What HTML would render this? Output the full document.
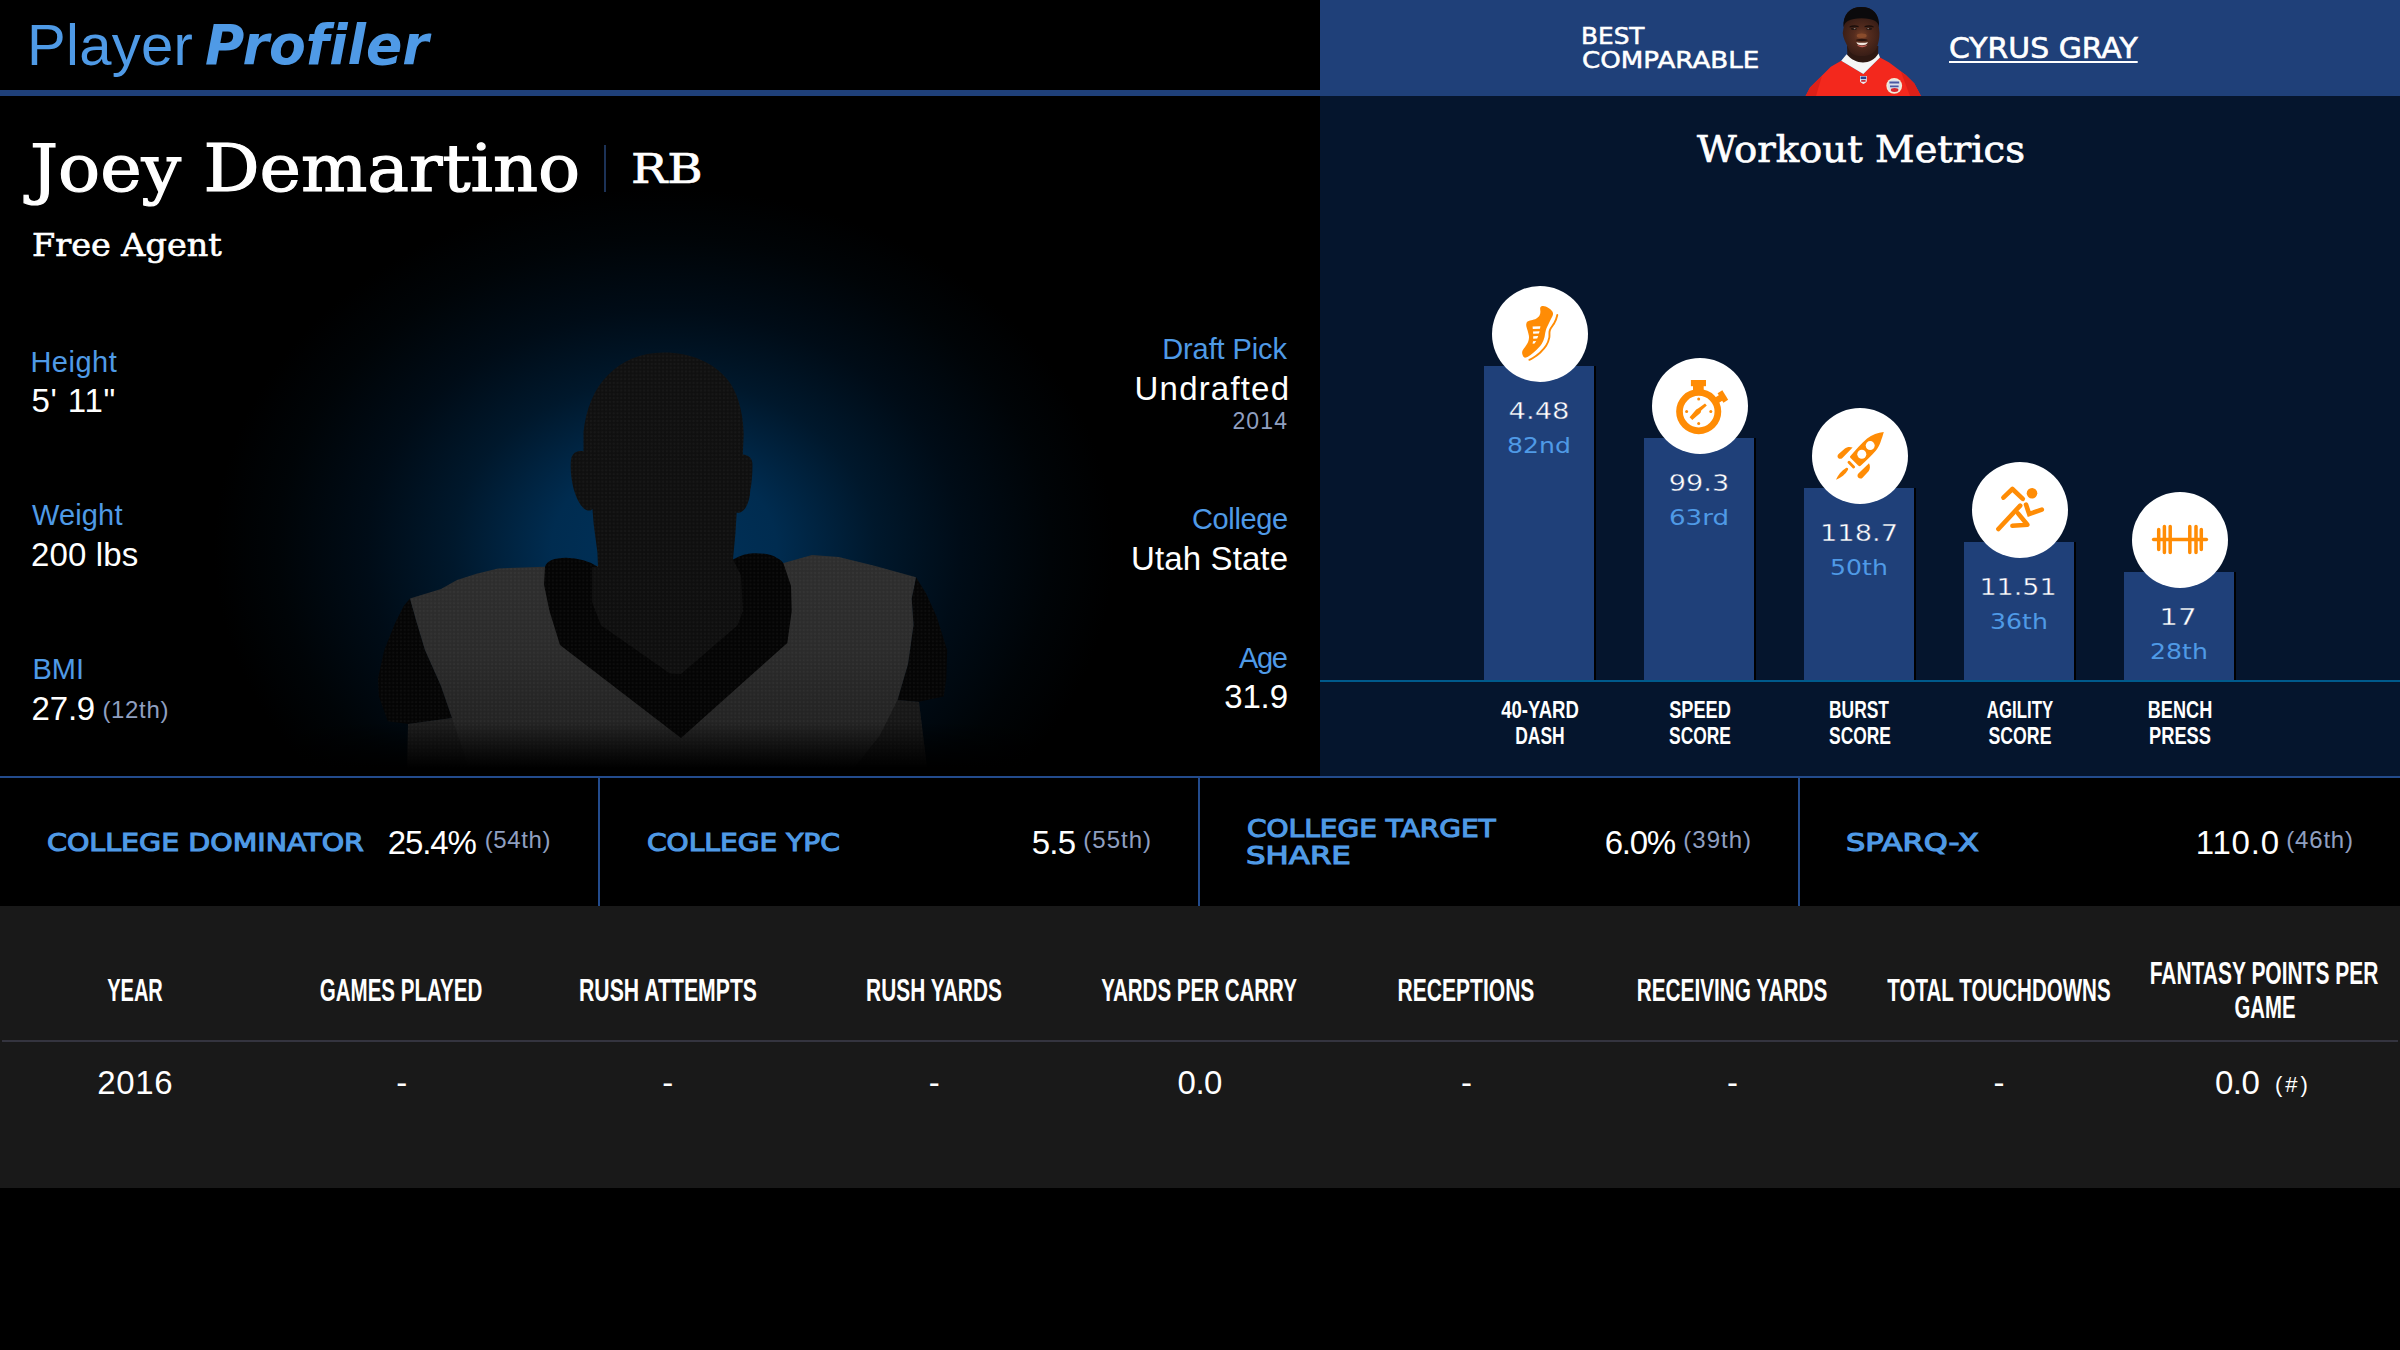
<!DOCTYPE html>
<html lang="en">
<head>
<meta charset="utf-8">
<title>Joey Demartino - PlayerProfiler</title>
<style>
*{margin:0;padding:0;box-sizing:border-box}
html,body{width:2400px;height:1350px;background:#000;overflow:hidden}
body{position:relative;font-family:"Liberation Sans",sans-serif;color:#fff}
.abs{position:absolute}
.t{position:absolute;white-space:nowrap;line-height:1;z-index:5}
.sans{font-family:"Liberation Sans",sans-serif}
.slab{font-family:"DejaVu Serif",serif}
.wide{font-family:"DejaVu Sans",sans-serif}
.blue{color:#4f9ae6}
.gray{color:#8d9cbd}
.r{text-align:right}
.c{text-align:center}
/* header */
#hdr{left:0;top:0;width:1320px;height:96px;background:#000;border-bottom:6px solid #1f4079}
#cmp{left:1320px;top:0;width:1080px;height:96px;background:#1f4079}
/* panels */
#player{left:0;top:96px;width:1320px;height:680px;background:#000;overflow:hidden}
#glow{left:0;top:0;width:1320px;height:680px;background:radial-gradient(ellipse 450px 360px at 664px 452px,#00325b 0%,#002c50 25%,#00182c 47%,#000c17 66%,#000407 86%,#000 100%)}
#workout{left:1320px;top:96px;width:1080px;height:680px;background:#05152d}
#hline{left:0;top:776px;width:2400px;height:2px;background:#234b8c}
/* stats row */
.cell{position:absolute;top:778px;height:128px;width:600px;background:#000}
.cell.b{border-right:2px solid #234b8c}
/* table */
#tbl{left:0;top:906px;width:2400px;height:282px;background:#191919}
#tline{left:2px;top:1040px;width:2396px;height:2px;background:#34343f}
.th{position:absolute;white-space:nowrap;line-height:1;font-family:"Liberation Sans",sans-serif;font-weight:bold;font-size:29px;transform-origin:50% 50%;text-align:center}
.td{position:absolute;white-space:nowrap;line-height:1;font-size:32px;text-align:center;width:266px}
/* bars */
.bar{position:absolute;width:110px;background:#1f4079;box-shadow:2px 0 0 #000}
.circ{position:absolute;width:96px;height:96px;border-radius:50%;background:#fff}
#base{left:1320px;top:680px;width:1080px;height:2px;background:#005a8c}
</style>
</head>
<body>
<!-- header -->
<div id="hdr" class="abs"></div>
<div id="cmp" class="abs"></div>
<!-- panels -->
<div id="player" class="abs"><div id="glow" class="abs"></div></div>
<div id="workout" class="abs"></div>
<div id="hline" class="abs"></div>
<div class="cell b" style="left:0"></div>
<div class="cell b" style="left:600px"></div>
<div class="cell b" style="left:1200px"></div>
<div class="cell" style="left:1800px"></div>
<div id="tbl" class="abs"></div>
<div id="tline" class="abs"></div>
<div id="base" class="abs"></div>
<!--SILHOUETTE-->
<svg class="abs" style="left:0;top:96px" width="1320" height="680" viewBox="0 96 1320 680">
<defs>
<linearGradient id="jg" x1="0" y1="555" x2="0" y2="776" gradientUnits="userSpaceOnUse">
<stop offset="0" stop-color="#2e2e2e"/><stop offset="0.43" stop-color="#2b2b2b"/><stop offset="0.665" stop-color="#252525"/><stop offset="1" stop-color="#1f1f1f"/>
</linearGradient>
<linearGradient id="fade" x1="0" y1="722" x2="0" y2="768" gradientUnits="userSpaceOnUse">
<stop offset="0" stop-color="#000" stop-opacity="0"/><stop offset="1" stop-color="#000" stop-opacity="1"/>
</linearGradient>
<pattern id="dots" x="0" y="96" width="3.8" height="3.8" patternUnits="userSpaceOnUse"><rect x="0.9" y="0.9" width="2" height="2" fill="#fff" fill-opacity="0.036"/></pattern>
<clipPath id="silclip"><use href="#sl1"/><use href="#sl2"/><use href="#jer"/><use href="#col"/><use href="#skn"/></clipPath>
<linearGradient id="slg" x1="0" y1="580" x2="0" y2="724" gradientUnits="userSpaceOnUse"><stop offset="0" stop-color="#050505"/><stop offset="1" stop-color="#040404"/></linearGradient>
<linearGradient id="skin" x1="0" y1="360" x2="0" y2="676" gradientUnits="userSpaceOnUse"><stop offset="0" stop-color="#101010"/><stop offset="1" stop-color="#0e0e0e"/></linearGradient>
</defs>
<!-- sleeves -->
<path id="sl1" fill="url(#slg)" d="M410,598.6 L403.8,605.8 L394.9,623.5 L384.2,650.2 L378,678.6 L378.9,696.4 L387.8,721.3 L408.2,724 L452,718 L441,686 L425,650 L416,620 Z"/>
<path id="sl2" fill="url(#slg)" d="M916,577.3 L926,593.3 L936.6,616.4 L947.2,650.2 L946.3,678.6 L943.7,696.4 L918.8,701.7 L897.5,700 L908,664 L913.5,625 L911.7,598.6 Z"/>
<!-- jersey -->
<path id="jer" fill="url(#jg)" d="M545,566.7 L498,568.4 L476.6,573.8 L457,580 L441,589 L410,598.6 L416,620 L425,650 L441,686 L452,718 L408,724 L407,776 L928,776 L919,702 L897.5,700 L908,664 L913.5,625 L911.7,598.6 L916,577.3 L874.4,565.8 L838.8,557 L812,555 L783.7,563 Z"/>
<path fill="#000" fill-opacity="0.35" d="M897.5,700 L879.7,735.5 L847.7,776 L928,776 L919,702 Z"/>
<path fill="#000" fill-opacity="0.18" d="M452,718 L464,753 L470,776 L407,776 L408,724 Z"/>
<!-- collar -->
<path id="col" fill="#040404" d="M545,566.7 Q548,558 566,557.8 Q585,558 598,567 L733,559.5 Q745,553 754,553.3 Q770,553 777,558 Q783,561 784,565 L791,586 L791.7,611 L787.3,643 L681,738 L560,645 L549.5,611 L544,584.4 Z"/>
<!-- skin: head + neck + V -->
<path id="skn" fill="url(#skin)" d="M664,352.5 C640,352.5 622,361 608,375 C594,389 586,409 583.5,432 L583.5,451.3 C578,450.5 572.5,452 571,459.6 C570,470 571.5,480 573.3,487.4 C575.5,496 579,503 582,506.5 C586,511.5 591,511.5 592.4,508.7 L593.7,524.4 L597.4,552.2 L598,567 L592,567 L592,602 L601,625.3 L670,673.5 L681,674 L737.5,625.3 L742.9,611 L741,575.5 L733,559.5 L735.4,533.7 L736.7,512.4 C739,514 743,511.5 745.6,507.8 C748.5,503 750,497 750.2,491 C752,482 752.6,472 752.4,463.3 C752,457.5 748,455 742.8,454.5 L743.7,433.7 C743,410 737,391 727,379 C713,362 690,352.5 664,352.5 Z"/>
<rect x="370" y="350" width="590" height="426" fill="url(#dots)" clip-path="url(#silclip)"/>
<rect x="0" y="720" width="1320" height="56" fill="url(#fade)"/>
</svg>
<!--/SILHOUETTE-->
<!--PHOTO-->
<svg class="abs" style="left:1760px;top:0" width="200" height="96" viewBox="0 0 200 96">
<defs><clipPath id="pc"><rect x="0" y="0" width="200" height="96"/></clipPath>
<radialGradient id="skg" cx="101.5" cy="36" r="22" gradientUnits="userSpaceOnUse"><stop offset="0" stop-color="#7a4228"/><stop offset="0.35" stop-color="#552c1e"/><stop offset="1" stop-color="#341b15"/></radialGradient></defs>
<g clip-path="url(#pc)">
<!-- jersey -->
<path fill="#f3281d" d="M81.2,60.8 L70.8,66.7 L58.3,79.2 L50,87.5 L45.6,96 L161,96 L154.2,83.3 L145.8,75 L129.2,62.5 L120,57.5 L103.3,74 Z"/>
<path fill="#dc2018" d="M45.6,96 L50,87.5 L58.3,79.2 L62,76 L56,96 Z M161,96 L154.2,83.3 L145.8,75 L141,72 L150,96 Z"/>
<!-- neck -->
<path fill="#2e1812" d="M87,46 L87.5,58 L103,68 L118,57 L118.3,46 Z"/>
<!-- white collar -->
<path fill="#f6f6f6" d="M81.2,60.8 L86.6,54.2 C91,59.4 97,62.4 103,62.4 C109,62.4 115,59.4 118.5,53.4 L120,57.5 L103.3,74 Z"/>
<!-- head -->
<path fill="url(#skg)" d="M83.7,27 C83,14 90,7 101.2,6.9 C113,7 119.5,14 118.8,27 L119.5,33 C119.5,38 118.5,43 116.9,47.4 C115,52.4 110,56 101.8,56 C93.4,56 89.6,52.4 88,47.4 C86,43 83,38 82.7,33 Z"/>
<!-- hair -->
<path fill="#0b0a0c" d="M83.5,27.5 C82.6,14 90,6.9 101.2,6.9 C113,6.9 120,14 119,27.5 C118.6,21.4 114,18.4 101.5,18.2 C89.4,18.4 84.4,21.4 83.5,27.5 Z"/>
<!-- brows / eyes -->
<path fill="#1a0e0b" d="M89.6,26.2 C92.4,25 96,25 98.6,26 L98.6,27.2 C96,26.4 92.4,26.4 89.6,27.6 Z M104.6,26 C107.4,25 111,25 113.6,26.2 L113.6,27.6 C111,26.4 107.4,26.4 104.6,27.2 Z"/>
<ellipse cx="93.8" cy="28.8" rx="3" ry="1.3" fill="#241611"/><ellipse cx="109.2" cy="28.8" rx="3" ry="1.3" fill="#241611"/>
<ellipse cx="94.6" cy="28.6" rx="1" ry="0.7" fill="#8d8079"/><ellipse cx="108.2" cy="28.6" rx="1" ry="0.7" fill="#8d8079"/>
<!-- nose & mouth -->
<ellipse cx="101.7" cy="35.8" rx="5" ry="2.2" fill="#8a4c2c"/>
<ellipse cx="101.8" cy="40" rx="6" ry="1.2" fill="#2a140f"/>
<path fill="#f3e7de" d="M96.3,42.2 C99.6,42.9 104.4,42.9 108,42.2 C107,44.6 104.2,45.2 102,45.2 C99.8,45.2 97.2,44.6 96.3,42.2 Z"/>
<path fill="#c25f58" d="M97,44.8 C100,46 104.4,46 107.4,44.8 C106,48 98.4,48 97,44.8 Z"/>
<!-- NFL shield -->
<path fill="#e9eef7" d="M100,76 L106.8,76 L106.8,81 C106.8,82.5 104.5,83.2 103.4,84 C102.3,83.2 100,82.5 100,81 Z"/>
<path fill="#27408f" d="M100.6,76.5 L106.2,76.5 L106.2,79.2 L100.6,79.2 Z"/>
<path fill="#c8303a" d="M101.2,80 L105.6,80 L105.6,81.8 L101.2,81.8 Z"/>
<!-- patch -->
<circle cx="134.2" cy="85.8" r="7.9" fill="#f1ead6"/>
<circle cx="134.2" cy="85.8" r="6.3" fill="#dcdfeb"/>
<path fill="#4a58a4" d="M129.4,81.6 L139.2,81.6 L139.2,83.6 L129.4,83.6 Z M130,85.4 L138.6,85.4 L138.6,87.2 L130,87.2 Z"/>
<ellipse cx="134.6" cy="90" rx="3.8" ry="1.9" fill="#d8272d"/>
</g>
</svg>
<!--/PHOTO-->
<div class="abs" id="ndiv" style="left:604px;top:145px;width:2px;height:47px;background:#1c3257"></div>
<!--TEXT-->
<div class="t" id="lg1" style="font-family:'Liberation Sans',sans-serif;font-size:58px;color:#4f9ae6;top:15.59px;letter-spacing:0.280px;left:27.00px;">Player</div>
<div class="t" id="lg2" style="font-family:'DejaVu Sans',sans-serif;font-weight:bold;font-style:italic;font-size:55px;color:#4f9ae6;top:18.12px;left:205.00px;transform-origin:0 50%;transform:scaleX(0.9742);font-variant-ligatures:none;">Profiler</div>
<div class="t" id="nm" style="font-family:'DejaVu Serif',serif;font-size:65px;color:#fff;top:136.38px;left:30.00px;transform-origin:0 50%;transform:scaleX(1.0767);-webkit-text-stroke:1.2px #fff;">Joey Demartino</div>
<div class="t" id="pos" style="font-family:'DejaVu Serif',serif;font-size:41px;color:#fff;top:148.66px;left:631.00px;transform-origin:0 50%;transform:scaleX(1.1754);-webkit-text-stroke:0.7px #fff;">RB</div>
<div class="t" id="team" style="font-family:'DejaVu Serif',serif;font-size:31px;color:#fff;top:229.81px;left:32.00px;transform-origin:0 50%;transform:scaleX(1.0784);-webkit-text-stroke:0.6px #fff;">Free Agent</div>
<div class="t" id="l1" style="font-family:'Liberation Sans',sans-serif;font-size:29px;color:#4f9ae6;top:348.39px;letter-spacing:0.520px;left:30.40px;">Height</div>
<div class="t" id="v1" style="font-family:'Liberation Sans',sans-serif;font-size:33px;color:#fff;top:384.12px;letter-spacing:0.820px;left:31.40px;">5' 11&quot;</div>
<div class="t" id="l2" style="font-family:'Liberation Sans',sans-serif;font-size:29px;color:#4f9ae6;top:501.29px;letter-spacing:0.140px;left:32.00px;">Weight</div>
<div class="t" id="v2" style="font-family:'Liberation Sans',sans-serif;font-size:33px;color:#fff;top:537.72px;letter-spacing:0.150px;left:31.00px;">200 lbs</div>
<div class="t" id="l3" style="font-family:'Liberation Sans',sans-serif;font-size:29px;color:#4f9ae6;top:655.29px;left:32.40px;">BMI</div>
<div class="t" id="v3" style="font-family:'Liberation Sans',sans-serif;font-size:33px;color:#fff;top:692.12px;letter-spacing:-0.200px;left:31.60px;">27.9</div>
<div class="t" id="p3" style="font-family:'Liberation Sans',sans-serif;font-size:24px;color:#8f9fc0;top:698.02px;letter-spacing:0.660px;left:102.40px;">(12th)</div>
<div class="t" id="l4" style="font-family:'Liberation Sans',sans-serif;font-size:29px;color:#4f9ae6;top:335.19px;letter-spacing:-0.100px;right:1113.10px;">Draft Pick</div>
<div class="t" id="v4" style="font-family:'Liberation Sans',sans-serif;font-size:33px;color:#fff;top:371.72px;letter-spacing:1.188px;right:1109.81px;">Undrafted</div>
<div class="t" id="y4" style="font-family:'Liberation Sans',sans-serif;font-size:23px;color:#8f9fc0;top:410.37px;letter-spacing:1.133px;right:1111.87px;">2014</div>
<div class="t" id="l5" style="font-family:'Liberation Sans',sans-serif;font-size:29px;color:#4f9ae6;top:504.89px;letter-spacing:-0.400px;right:1112.40px;">College</div>
<div class="t" id="v5" style="font-family:'Liberation Sans',sans-serif;font-size:33px;color:#fff;top:542.41px;letter-spacing:0.111px;right:1111.89px;">Utah State</div>
<div class="t" id="l6" style="font-family:'Liberation Sans',sans-serif;font-size:29px;color:#4f9ae6;top:643.50px;letter-spacing:-1.300px;right:1113.30px;">Age</div>
<div class="t" id="v6" style="font-family:'Liberation Sans',sans-serif;font-size:33px;color:#fff;top:680.01px;letter-spacing:-0.133px;right:1112.13px;">31.9</div>
<div class="t" id="bc1" style="font-family:'DejaVu Sans',sans-serif;font-size:22.5px;color:#fff;top:25.09px;left:1580.80px;transform-origin:0 50%;transform:scaleX(1.1008);-webkit-text-stroke:0.5px #fff;">BEST</div>
<div class="t" id="bc2" style="font-family:'DejaVu Sans',sans-serif;font-size:22.5px;color:#fff;top:49.39px;left:1581.80px;transform-origin:0 50%;transform:scaleX(1.1610);-webkit-text-stroke:0.5px #fff;">COMPARABLE</div>
<a class="t" id="cg" style="font-family:'DejaVu Sans',sans-serif;font-size:27.5px;color:#fff;top:35.26px;left:1949.00px;transform-origin:0 50%;transform:scaleX(1.0862);-webkit-text-stroke:0.6px #fff;text-decoration:underline;text-decoration-thickness:2px;text-underline-offset:3px;">CYRUS GRAY</a>
<div class="t" id="wm" style="font-family:'DejaVu Serif',serif;font-size:37px;color:#fff;top:130.74px;left:1560.90px;width:600px;text-align:center;transform:scaleX(1.0429);-webkit-text-stroke:0.7px #fff;">Workout Metrics</div>
<div class="t" id="bv0" style="font-family:'DejaVu Sans',sans-serif;font-size:23.3px;color:#fff;top:399.31px;left:1238.50px;width:600px;text-align:center;transform:scaleX(1.1783);-webkit-text-stroke:0.4px #1f4079;">4.48</div>
<div class="t" id="bp0" style="font-family:'DejaVu Sans',sans-serif;font-size:20.5px;color:#4f9ae6;top:436.18px;left:1238.50px;width:600px;text-align:center;transform:scaleX(1.2245);">82nd</div>
<div class="t" id="bl0a" style="font-family:'Liberation Sans',sans-serif;font-weight:bold;font-size:24px;color:#fff;top:698.02px;left:1239.50px;width:600px;text-align:center;transform:scaleX(0.7720);">40-YARD</div>
<div class="t" id="bl0b" style="font-family:'Liberation Sans',sans-serif;font-weight:bold;font-size:24px;color:#fff;top:723.72px;left:1240.00px;width:600px;text-align:center;transform:scaleX(0.7273);">DASH</div>
<div class="t" id="bv1" style="font-family:'DejaVu Sans',sans-serif;font-size:23.3px;color:#fff;top:471.31px;left:1398.50px;width:600px;text-align:center;transform:scaleX(1.1647);-webkit-text-stroke:0.4px #1f4079;">99.3</div>
<div class="t" id="bp1" style="font-family:'DejaVu Sans',sans-serif;font-size:20.5px;color:#4f9ae6;top:508.18px;left:1399.00px;width:600px;text-align:center;transform:scaleX(1.2727);">63rd</div>
<div class="t" id="bl1a" style="font-family:'Liberation Sans',sans-serif;font-weight:bold;font-size:24px;color:#fff;top:698.02px;left:1400.00px;width:600px;text-align:center;transform:scaleX(0.7578);">SPEED</div>
<div class="t" id="bl1b" style="font-family:'Liberation Sans',sans-serif;font-weight:bold;font-size:24px;color:#fff;top:723.72px;left:1400.00px;width:600px;text-align:center;transform:scaleX(0.7255);">SCORE</div>
<div class="t" id="bv2" style="font-family:'DejaVu Sans',sans-serif;font-size:23.3px;color:#fff;top:521.31px;left:1558.50px;width:600px;text-align:center;transform:scaleX(1.1688);-webkit-text-stroke:0.4px #1f4079;">118.7</div>
<div class="t" id="bp2" style="font-family:'DejaVu Sans',sans-serif;font-size:20.5px;color:#4f9ae6;top:558.18px;left:1558.50px;width:600px;text-align:center;transform:scaleX(1.2267);">50th</div>
<div class="t" id="bl2a" style="font-family:'Liberation Sans',sans-serif;font-weight:bold;font-size:24px;color:#fff;top:698.02px;left:1559.00px;width:600px;text-align:center;transform:scaleX(0.7266);">BURST</div>
<div class="t" id="bl2b" style="font-family:'Liberation Sans',sans-serif;font-weight:bold;font-size:24px;color:#fff;top:723.72px;left:1560.00px;width:600px;text-align:center;transform:scaleX(0.7255);">SCORE</div>
<div class="t" id="bv3" style="font-family:'DejaVu Sans',sans-serif;font-size:23.3px;color:#fff;top:575.31px;left:1718.00px;width:600px;text-align:center;transform:scaleX(1.1566);-webkit-text-stroke:0.4px #1f4079;">11.51</div>
<div class="t" id="bp3" style="font-family:'DejaVu Sans',sans-serif;font-size:20.5px;color:#4f9ae6;top:612.18px;left:1719.00px;width:600px;text-align:center;transform:scaleX(1.2273);">36th</div>
<div class="t" id="bl3a" style="font-family:'Liberation Sans',sans-serif;font-weight:bold;font-size:24px;color:#fff;top:698.02px;left:1720.00px;width:600px;text-align:center;transform:scaleX(0.7003);">AGILITY</div>
<div class="t" id="bl3b" style="font-family:'Liberation Sans',sans-serif;font-weight:bold;font-size:24px;color:#fff;top:723.72px;left:1720.00px;width:600px;text-align:center;transform:scaleX(0.7371);">SCORE</div>
<div class="t" id="bv4" style="font-family:'DejaVu Sans',sans-serif;font-size:23.3px;color:#fff;top:605.31px;left:1877.50px;width:600px;text-align:center;transform:scaleX(1.2644);-webkit-text-stroke:0.4px #1f4079;">17</div>
<div class="t" id="bp4" style="font-family:'DejaVu Sans',sans-serif;font-size:20.5px;color:#4f9ae6;top:642.18px;left:1879.00px;width:600px;text-align:center;transform:scaleX(1.2273);">28th</div>
<div class="t" id="bl4a" style="font-family:'Liberation Sans',sans-serif;font-weight:bold;font-size:24px;color:#fff;top:698.02px;left:1880.00px;width:600px;text-align:center;transform:scaleX(0.7553);">BENCH</div>
<div class="t" id="bl4b" style="font-family:'Liberation Sans',sans-serif;font-weight:bold;font-size:24px;color:#fff;top:723.72px;left:1879.50px;width:600px;text-align:center;transform:scaleX(0.7609);">PRESS</div>
<div class="t" id="s1" style="font-family:'DejaVu Sans',sans-serif;font-size:24.7px;color:#4f9ae6;top:830.63px;left:47.00px;transform-origin:0 50%;transform:scaleX(1.1545);-webkit-text-stroke:1.1px #4f9ae6;">COLLEGE DOMINATOR</div>
<div class="t" id="s2" style="font-family:'DejaVu Sans',sans-serif;font-size:24.7px;color:#4f9ae6;top:830.63px;left:647.00px;transform-origin:0 50%;transform:scaleX(1.1371);-webkit-text-stroke:1.1px #4f9ae6;">COLLEGE YPC</div>
<div class="t" id="s3a" style="font-family:'DejaVu Sans',sans-serif;font-size:24.7px;color:#4f9ae6;top:816.63px;left:1247.00px;transform-origin:0 50%;transform:scaleX(1.1337);-webkit-text-stroke:1.1px #4f9ae6;">COLLEGE TARGET</div>
<div class="t" id="s3b" style="font-family:'DejaVu Sans',sans-serif;font-size:24.7px;color:#4f9ae6;top:844.13px;left:1246.00px;transform-origin:0 50%;transform:scaleX(1.2496);-webkit-text-stroke:1.1px #4f9ae6;">SHARE</div>
<div class="t" id="s4" style="font-family:'DejaVu Sans',sans-serif;font-size:24.7px;color:#4f9ae6;top:830.63px;left:1846.00px;transform-origin:0 50%;transform:scaleX(1.2336);-webkit-text-stroke:1.1px #4f9ae6;">SPARQ-X</div>
<div class="t" id="sv1" style="font-family:'Liberation Sans',sans-serif;font-size:33px;color:#fff;top:825.87px;letter-spacing:-1.150px;right:1924.35px;">25.4%</div>
<div class="t" id="sp1" style="font-family:'Liberation Sans',sans-serif;font-size:24px;color:#8f9fc0;top:827.62px;letter-spacing:0.600px;right:1849.00px;">(54th)</div>
<div class="t" id="sv2" style="font-family:'Liberation Sans',sans-serif;font-size:33px;color:#fff;top:825.87px;letter-spacing:-0.750px;right:1324.75px;">5.5</div>
<div class="t" id="sp2" style="font-family:'Liberation Sans',sans-serif;font-size:24px;color:#8f9fc0;top:827.62px;letter-spacing:1.000px;right:1248.00px;">(55th)</div>
<div class="t" id="sv3" style="font-family:'Liberation Sans',sans-serif;font-size:33px;color:#fff;top:825.87px;letter-spacing:-1.333px;right:725.33px;">6.0%</div>
<div class="t" id="sp3" style="font-family:'Liberation Sans',sans-serif;font-size:24px;color:#8f9fc0;top:827.62px;letter-spacing:1.000px;right:648.00px;">(39th)</div>
<div class="t" id="sv4" style="font-family:'Liberation Sans',sans-serif;font-size:33px;color:#fff;top:825.87px;letter-spacing:0.750px;right:120.25px;">110.0</div>
<div class="t" id="sp4" style="font-family:'Liberation Sans',sans-serif;font-size:24px;color:#8f9fc0;top:827.62px;letter-spacing:0.800px;right:46.20px;">(46th)</div>
<div class="t" id="h0" style="font-family:'Liberation Sans',sans-serif;font-weight:bold;font-size:30.5px;color:#fff;top:975.23px;left:-164.80px;width:600px;text-align:center;transform:scaleX(0.6569);">YEAR</div>
<div class="t" id="h1" style="font-family:'Liberation Sans',sans-serif;font-weight:bold;font-size:30.5px;color:#fff;top:975.23px;left:101.10px;width:600px;text-align:center;transform:scaleX(0.6739);">GAMES PLAYED</div>
<div class="t" id="h2" style="font-family:'Liberation Sans',sans-serif;font-weight:bold;font-size:30.5px;color:#fff;top:975.23px;left:367.70px;width:600px;text-align:center;transform:scaleX(0.6957);">RUSH ATTEMPTS</div>
<div class="t" id="h3" style="font-family:'Liberation Sans',sans-serif;font-weight:bold;font-size:30.5px;color:#fff;top:975.23px;left:633.60px;width:600px;text-align:center;transform:scaleX(0.6847);">RUSH YARDS</div>
<div class="t" id="h4" style="font-family:'Liberation Sans',sans-serif;font-weight:bold;font-size:30.5px;color:#fff;top:975.23px;left:899.00px;width:600px;text-align:center;transform:scaleX(0.6724);">YARDS PER CARRY</div>
<div class="t" id="h5" style="font-family:'Liberation Sans',sans-serif;font-weight:bold;font-size:30.5px;color:#fff;top:975.23px;left:1166.40px;width:600px;text-align:center;transform:scaleX(0.6899);">RECEPTIONS</div>
<div class="t" id="h6" style="font-family:'Liberation Sans',sans-serif;font-weight:bold;font-size:30.5px;color:#fff;top:975.23px;left:1431.80px;width:600px;text-align:center;transform:scaleX(0.6812);">RECEIVING YARDS</div>
<div class="t" id="h7" style="font-family:'Liberation Sans',sans-serif;font-weight:bold;font-size:30.5px;color:#fff;top:975.23px;left:1699.40px;width:600px;text-align:center;transform:scaleX(0.6736);">TOTAL TOUCHDOWNS</div>
<div class="t" id="h8a" style="font-family:'Liberation Sans',sans-serif;font-weight:bold;font-size:30.5px;color:#fff;top:957.73px;left:1964.00px;width:600px;text-align:center;transform:scaleX(0.6871);">FANTASY POINTS PER</div>
<div class="t" id="h8b" style="font-family:'Liberation Sans',sans-serif;font-weight:bold;font-size:30.5px;color:#fff;top:991.73px;left:1965.00px;width:600px;text-align:center;transform:scaleX(0.6667);">GAME</div>
<div class="t" id="d0" style="font-family:'Liberation Sans',sans-serif;font-size:33px;color:#fff;top:1066.12px;letter-spacing:0.667px;left:-264.67px;width:800px;text-align:center;">2016</div>
<div class="t" id="d1" style="font-family:'Liberation Sans',sans-serif;font-size:33px;color:#fff;top:1066.12px;left:1.70px;width:800px;text-align:center;">-</div>
<div class="t" id="d2" style="font-family:'Liberation Sans',sans-serif;font-size:33px;color:#fff;top:1066.12px;left:267.80px;width:800px;text-align:center;">-</div>
<div class="t" id="d3" style="font-family:'Liberation Sans',sans-serif;font-size:33px;color:#fff;top:1066.12px;left:534.20px;width:800px;text-align:center;">-</div>
<div class="t" id="d5" style="font-family:'Liberation Sans',sans-serif;font-size:33px;color:#fff;top:1066.12px;left:1066.50px;width:800px;text-align:center;">-</div>
<div class="t" id="d6" style="font-family:'Liberation Sans',sans-serif;font-size:33px;color:#fff;top:1066.12px;left:1332.40px;width:800px;text-align:center;">-</div>
<div class="t" id="d7" style="font-family:'Liberation Sans',sans-serif;font-size:33px;color:#fff;top:1066.12px;left:1599.00px;width:800px;text-align:center;">-</div>
<div class="t" id="d4" style="font-family:'Liberation Sans',sans-serif;font-size:33px;color:#fff;top:1066.12px;letter-spacing:-0.500px;left:799.75px;width:800px;text-align:center;">0.0</div>
<div class="t" id="d8" style="font-family:'Liberation Sans',sans-serif;font-size:33px;color:#fff;top:1066.12px;letter-spacing:-0.500px;left:2215.00px;">0.0</div>
<div class="t" id="d8p" style="font-family:'Liberation Sans',sans-serif;font-size:22px;color:#fff;top:1074.41px;letter-spacing:3.000px;left:2275.00px;">(#)</div>
<!--/TEXT-->
<!--BARS-->
<div class="bar" style="left:1484px;top:366px;height:314px"></div>
<div class="circ" style="left:1492px;top:286px"><svg width="96" height="96" viewBox="0 0 96 96" style="display:block"><path fill="#ff8c05" d="M48.4,21.3 C49.5,19.5 53,19.6 56.9,22.2 C59,23.6 60.5,25.2 60.9,26.7 C61.2,28 61,29 60.4,30.2 C59.3,32.6 57.8,35 56.9,37.3 C55.6,40 54.4,42.2 53.8,44.4 C53,47 53,49.5 52.4,51.6 C51.8,53.8 51,55.8 49.8,57.8 C48.3,60.2 46.4,62.2 44.4,64 C42.4,66 40.3,67.8 38.2,69.3 C36.6,70.5 35.2,71.4 33.8,71.6 C32.2,71.8 31.2,70.8 30.7,69.3 C30.2,68 30,67 30.2,65.8 C30.5,64.2 31.8,62.8 32.9,61.3 C34.2,59.4 35.7,57.4 36.4,55.1 C37,53.3 37.1,51.5 36.9,49.8 C36.6,47.9 36.1,46.2 35.6,44.4 C35,42.6 34.2,40.8 34.2,39.1 C34.2,37.5 34.6,36.3 35.6,35.6 C36.6,34.8 37.8,34.5 39.1,34.2 C40.9,33.8 42.8,33.4 44.4,32.4 C45.8,31.6 47,30.6 47.6,29.3 C48.2,28.1 48.4,27 48.4,25.8 C48.4,24.3 47.8,22.6 48.4,21.3 Z"/>
<path fill="none" stroke="#ff8c05" stroke-width="1.9" stroke-linecap="round" d="M65.3,29 C64.6,32.2 63.6,35 62.2,37.3 C60.8,39.8 58.6,41.8 57.8,44.4 C57,46.8 57.8,49.2 57.3,51.6 C56.7,54.4 55.7,57.2 54.2,59.6 C52.6,62.3 50.3,64.6 48,66.7 C45.8,68.7 43.4,70.5 40.9,72 C39.8,72.7 38.6,73.4 37.3,73.8"/>
<path fill="#fff" d="M40.6,40.4 L48.4,40.2 L48,42.7 L40.8,42.9 Z M41,45.4 L47.6,45.2 L46.9,47.6 L41.2,47.8 Z M41.2,50.3 L46.2,50.1 L45.2,52.5 L41.2,52.7 Z M41,55.2 L44.2,55 L42.6,57.6 L40.6,57.8 Z"/></svg></div>
<div class="bar" style="left:1644px;top:438px;height:242px"></div>
<div class="circ" style="left:1652px;top:358px"><svg width="96" height="96" viewBox="0 0 96 96" style="display:block"><circle cx="46.7" cy="53.6" r="19.2" fill="none" stroke="#ff8c05" stroke-width="6.7"/>
<rect x="38.9" y="22" width="15.1" height="6.2" fill="#ff8c05"/><rect x="41" y="27" width="10.7" height="6" fill="#ff8c05"/>
<g transform="rotate(58 46.7 53.6)"><rect x="43.4" y="27" width="6.6" height="6" fill="#ff8c05"/><rect x="41.2" y="22.3" width="11" height="5.6" fill="#ff8c05"/></g>
<circle cx="46.7" cy="41.1" r="1.5" fill="#ff8c05"/><circle cx="46.7" cy="65.6" r="1.5" fill="#ff8c05"/><circle cx="34.6" cy="53.4" r="1.5" fill="#ff8c05"/><circle cx="58.8" cy="53.4" r="1.5" fill="#ff8c05"/>
<path fill="#ff8c05" d="M37.6,59.2 L40.3,62 L48.6,54.8 L49.2,52.6 L54.8,47.6 L53,45.6 L46.4,50.2 L44.2,51.4 Z"/></svg></div>
<div class="bar" style="left:1804px;top:488px;height:192px"></div>
<div class="circ" style="left:1812px;top:408px"><svg width="96" height="96" viewBox="0 0 96 96" style="display:block"><path fill="#ff8c05" d="M71.8,24 C66,24.6 60,26.6 55.1,30.4 C49.4,35.4 43.2,42.4 38.2,48.2 C37.6,49 38.2,49.6 39.1,50.4 L46.2,57.6 C47.2,58.4 48,58.4 48.9,57.6 C54.4,52.4 59.6,47.6 64,42.4 C66,40 67.4,37 68.4,34.4 C69.8,30.6 71,27 71.8,24 Z"/>
<circle cx="58.2" cy="37.6" r="4.5" fill="#fff"/><circle cx="49.8" cy="46.2" r="4.5" fill="#fff"/>
<path fill="#ff8c05" d="M40.6,39.6 C37.8,38.6 34.8,39 32.6,40.8 L26.6,46 C25.2,47.4 25.2,49.2 26.4,50.2 C27.6,51.2 29.2,51 30.4,50 Z"/>
<path fill="#ff8c05" d="M57,55.2 C58.4,58 58.2,61 56.6,63.2 L50.8,69.4 C49.6,70.8 47.6,71 46.4,69.8 C45.2,68.6 45.2,67 46.4,65.6 Z"/>
<path fill="none" stroke="#ff8c05" stroke-width="2.9" stroke-linecap="round" d="M37,54.2 L41.6,59"/>
<path fill="#ff8c05" d="M24,71.8 C26,67 29.6,62.6 34,60 C35.4,59.2 36.6,60.4 36,61.8 C33.6,66.2 29,69.8 24,71.8 Z"/></svg></div>
<div class="bar" style="left:1964px;top:542px;height:138px"></div>
<div class="circ" style="left:1972px;top:462px"><svg width="96" height="96" viewBox="0 0 96 96" style="display:block"><circle cx="60" cy="31.3" r="5.3" fill="#ff8c05"/>
<g fill="none" stroke="#ff8c05" stroke-width="4.6" stroke-linecap="round" stroke-linejoin="round">
<path d="M31.4,35.6 L40.4,27 L50.8,36.8"/>
<path d="M48.2,43.6 L26.4,67"/>
<path d="M54,42.6 L57.2,52 L69.8,47.6" stroke-linejoin="miter"/>
<path d="M46,51.4 L55.4,62.8 L40.4,63.8"/>
</g></svg></div>
<div class="bar" style="left:2124px;top:572px;height:108px"></div>
<div class="circ" style="left:2132px;top:492px"><svg width="96" height="96" viewBox="0 0 96 96" style="display:block"><g fill="none" stroke="#ff8c05" stroke-width="3.5" stroke-linecap="round">
<path d="M21.6,47.5 L74.4,47.5"/>
<path d="M26.7,37.6 V57.6 M32.4,34.6 V60.6 M38.2,34.6 V60.6 M57.8,34.6 V60.6 M64,34.6 V60.6 M69.3,37.6 V57.6"/>
</g></svg></div>
<!--/BARS-->
</body>
</html>
